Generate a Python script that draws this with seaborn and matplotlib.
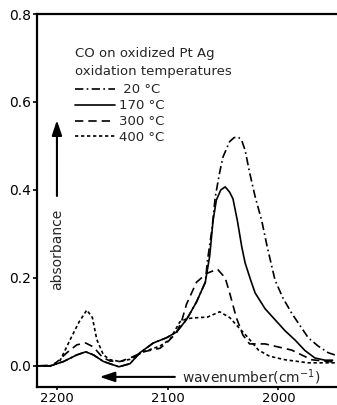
import numpy as np
import pandas as pd
import matplotlib
matplotlib.use("Agg")
import matplotlib.pyplot as plt
import seaborn as sns

# ---- data ----
wn_170 = [2218, 2206, 2194, 2182, 2174, 2167, 2158, 2144, 2134, 2125, 2113, 2101,
          2092, 2083, 2074, 2066, 2062, 2059, 2056, 2052, 2048, 2044, 2041, 2037,
          2033, 2030, 2025, 2021, 2012, 2003, 1994, 1985, 1976, 1967, 1958, 1951]
ab_170 = [0.0, 0.0, 0.010, 0.025, 0.032, 0.025, 0.010, -0.002, 0.005, 0.030, 0.052, 0.064,
          0.077, 0.105, 0.145, 0.190, 0.250, 0.330, 0.377, 0.400, 0.407, 0.395, 0.380, 0.330,
          0.270, 0.234, 0.195, 0.166, 0.130, 0.105, 0.080, 0.059, 0.035, 0.018, 0.013, 0.013]

wn_20 = [2218, 2206, 2194, 2182, 2174, 2167, 2158, 2144, 2134, 2125, 2113, 2101,
         2092, 2083, 2074, 2066, 2064, 2060, 2057, 2053, 2050, 2044, 2040, 2036, 2033, 2030,
         2026, 2021, 2015, 2010, 2003, 1996, 1988, 1980, 1973, 1964, 1955, 1949]
ab_20 = [0.0, 0.0, 0.010, 0.025, 0.032, 0.025, 0.010, -0.002, 0.005, 0.030, 0.052, 0.064,
         0.077, 0.105, 0.145, 0.190, 0.240, 0.310, 0.384, 0.440, 0.475, 0.510, 0.519, 0.520, 0.512, 0.490,
         0.440, 0.385, 0.330, 0.270, 0.195, 0.155, 0.120, 0.090, 0.064, 0.045, 0.030, 0.025]

wn_300 = [2218, 2203, 2191, 2182, 2174, 2167, 2159, 2152, 2143, 2134, 2122, 2107,
          2101, 2092, 2087, 2083, 2074, 2065, 2055, 2048, 2044, 2038, 2032, 2026,
          2012, 1988, 1970, 1951]
ab_300 = [0.0, 0.002, 0.030, 0.048, 0.052, 0.043, 0.020, 0.011, 0.010, 0.018, 0.032, 0.040,
          0.052, 0.075, 0.105, 0.140, 0.190, 0.210, 0.220, 0.200, 0.166, 0.110, 0.070, 0.050,
          0.050, 0.036, 0.014, 0.009]

wn_400 = [2218, 2206, 2197, 2188, 2180, 2173, 2168, 2164, 2158, 2152, 2143, 2134,
          2122, 2107, 2098, 2089, 2083, 2077, 2064, 2053, 2044, 2035, 2028, 2018,
          2008, 1994, 1973, 1949]
ab_400 = [0.0, 0.0, 0.013, 0.060, 0.100, 0.127, 0.110, 0.060, 0.025, 0.014, 0.010, 0.015,
          0.032, 0.045, 0.060, 0.100, 0.107, 0.109, 0.111, 0.123, 0.110, 0.085, 0.066, 0.036,
          0.022, 0.014, 0.007, 0.007]

labels = [" 20 °C", "170 °C", "300 °C", "400 °C"]
x_ticks = [2200, 2100, 2000]
y_ticks = [0.0, 0.2, 0.4, 0.6, 0.8]
title_text = "CO on oxidized Pt Ag\noxidation temperatures"

frames = []
for lab, w, a in zip(labels, [wn_20, wn_170, wn_300, wn_400], [ab_20, ab_170, ab_300, ab_400]):
    frames.append(pd.DataFrame({"wn": w, "ab": a, "temp": lab}))
df = pd.concat(frames, ignore_index=True)

sns.set_style("ticks")
plt.rcParams["font.family"] = ["DejaVu Sans"]

fig = plt.figure(figsize=(3.37, 4.05), dpi=100)
ax = fig.add_axes([0.1098, 0.0444, 0.887, 0.921])

dash_map = {labels[0]: (5, 2, 1, 2), labels[1]: "", labels[2]: (5, 3), labels[3]: (2, 1.6)}
sns.lineplot(data=df, x="wn", y="ab", style="temp", style_order=labels, dashes=dash_map,
             color="black", lw=1.2, estimator=None, sort=True, ax=ax)

ax.set_xlim(2218, 1948)
ax.set_ylim(-0.048, 0.8)
ax.set_xticks(x_ticks)
ax.set_yticks(y_ticks)
ax.set_yticklabels([f"{v:.1f}" for v in y_ticks])
ax.set_xlabel("")
ax.set_ylabel("")
ax.tick_params(axis="both", labelsize=10, direction="out", length=3, width=1.2, colors="black")
ax.tick_params(axis="x", pad=1, length=2.5, labelsize=9.5)
ax.tick_params(axis="y", pad=1.5)
for s in ["left", "bottom", "top"]:
    ax.spines[s].set_linewidth(1.6)
    ax.spines[s].set_color("black")
ax.spines["right"].set_visible(False)

handles, labs = ax.get_legend_handles_labels()
leg = ax.legend(handles, labs, title=title_text, loc="upper left",
                bbox_to_anchor=(0.11, 0.925), frameon=False, fontsize=9.5, title_fontsize=9.5,
                handlelength=3.0, handletextpad=0.3, labelspacing=0.22, alignment="left",
                borderaxespad=0.0)
leg.get_title().set_linespacing(1.45)
leg._legend_box.sep = 4

# annotation arrows
ax.annotate("", xy=(2200, 0.565), xytext=(2200, 0.38),
            arrowprops=dict(arrowstyle="-|>,head_length=0.9,head_width=0.3", color="black", lw=1.5))
ax.text(2200, 0.265, "absorbance", rotation=90, ha="center", va="center", fontsize=10)
ax.annotate("", xy=(2164, -0.025), xytext=(2091, -0.025),
            arrowprops=dict(arrowstyle="-|>,head_length=0.9,head_width=0.3", color="black", lw=1.5))
ax.text(2087, -0.025, "wavenumber(cm$^{-1}$)", ha="left", va="center", fontsize=10)

fig.savefig("out.png", dpi=100)
